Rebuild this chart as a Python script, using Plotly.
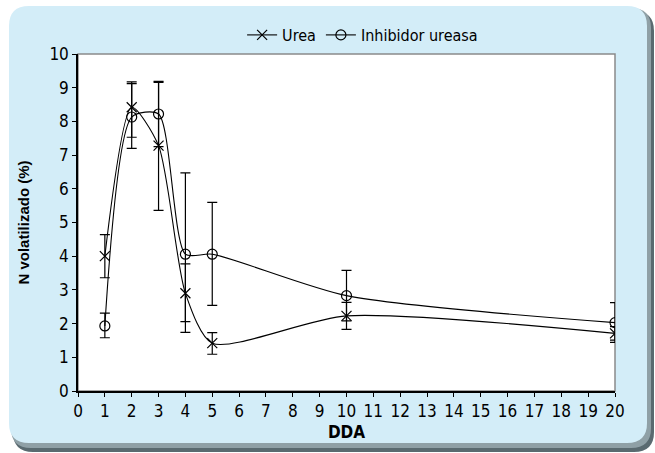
import plotly.graph_objects as go

# ---- data ----
days = [1, 2, 3, 4, 5, 10, 20]
urea = [4.0, 8.42, 7.28, 2.9, 1.42, 2.23, 1.71]
urea_err_up = [0.64, 0.75, 1.88, 0.87, 0.31, 0.4, 0.2]
urea_err_down = [0.64, 0.89, 1.92, 0.84, 0.33, 0.4, 0.2]
inhib = [1.93, 8.13, 8.22, 4.06, 4.06, 2.83, 2.03]
inhib_err_up = [0.38, 0.99, 0.97, 2.41, 1.54, 0.75, 0.59]
inhib_err_down = [0.35, 0.93, 0.97, 2.32, 1.52, 0.75, 0.59]
x_ticks = list(range(0, 21))
y_ticks = list(range(0, 11))

W, H = 655, 453
L, R, T, B = 78, 40, 54, 62
PW, PH = W - L - R, H - T - B

def px(x):
    return (x - L) / PW

def py(y):
    return (H - B - y) / PH

def rrect(x0, y0, x1, y1, r):
    rx, ry = r / PW, r / PH
    X0, X1 = px(x0), px(x1)
    Y0, Y1 = py(y0), py(y1)
    return (f"M {X0+rx},{Y0} L {X1-rx},{Y0} Q {X1},{Y0} {X1},{Y0-ry} "
            f"L {X1},{Y1+ry} Q {X1},{Y1} {X1-rx},{Y1} "
            f"L {X0+rx},{Y1} Q {X0},{Y1} {X0},{Y1+ry} "
            f"L {X0},{Y0-ry} Q {X0},{Y0} {X0+rx},{Y0} Z")

TICKFONT = "Liberation Sans Narrow, DejaVu Sans Condensed, Arial Narrow, sans-serif"

fig = go.Figure()

fig.add_trace(go.Scatter(
    x=days, y=urea, name="Urea", mode="lines+markers",
    line=dict(color="black", width=1.1, shape="spline", smoothing=0.7),
    marker=dict(symbol="x-thin-open", size=10, color="black", line=dict(width=1.2, color="black")),
    error_y=dict(type="data", array=urea_err_up, arrayminus=urea_err_down, symmetric=False,
                 color="black", thickness=1.2, width=5),
))
fig.add_trace(go.Scatter(
    x=days, y=inhib, name="Inhibidor ureasa", mode="lines+markers",
    line=dict(color="black", width=1.1, shape="spline", smoothing=0.7),
    marker=dict(symbol="circle-open", size=10, color="black", line=dict(width=1.2, color="black")),
    error_y=dict(type="data", array=inhib_err_up, arrayminus=inhib_err_down, symmetric=False,
                 color="black", thickness=1.2, width=5),
))

shapes = [
    dict(type="path", xref="paper", yref="paper", path=rrect(13, 11, 654, 452, 20),
         fillcolor="#5a6a70", line=dict(width=0), layer="below"),
    dict(type="path", xref="paper", yref="paper", path=rrect(11, 8, 651, 448, 20),
         fillcolor="#8fa0a6", line=dict(width=0), layer="below"),
    dict(type="path", xref="paper", yref="paper", path=rrect(9, 6, 647, 443, 20),
         fillcolor="#d3edf8", line=dict(width=0), layer="below"),
    dict(type="rect", xref="paper", yref="paper", x0=0, y0=0, x1=1, y1=1,
         fillcolor="white", line=dict(color="#8a8a8a", width=1.5), layer="below"),
]

fig.update_layout(
    width=W, height=H,
    margin=dict(l=L, r=R, t=T, b=B),
    paper_bgcolor="white", plot_bgcolor="rgba(0,0,0,0)",
    shapes=shapes,
    showlegend=True,
    legend=dict(orientation="h", x=0.53, xanchor="center", y=py(18), yanchor="top",
                font=dict(family=TICKFONT, size=16, color="black"),
                bgcolor="rgba(0,0,0,0)", itemwidth=30, tracegroupgap=0),
    xaxis=dict(range=[0, 20], tickvals=x_ticks, ticktext=[str(v) for v in x_ticks],
               showgrid=False, zeroline=False, showline=True, linecolor="black", linewidth=1.5,
               ticks="outside", ticklen=4, tickcolor="black", tickwidth=1,
               tickfont=dict(family=TICKFONT, size=17, color="black"),
               title=dict(text="<b>DDA</b>", font=dict(family=TICKFONT, size=17, color="black"), standoff=6)),
    yaxis=dict(range=[0, 10], tickvals=y_ticks, ticktext=[str(v) for v in y_ticks],
               showgrid=False, zeroline=False, showline=True, linecolor="black", linewidth=1.5,
               ticks="outside", ticklen=4, tickcolor="black", tickwidth=1,
               tickfont=dict(family=TICKFONT, size=17, color="black"),
               title=dict(text="<b>N volatilizado (%)</b>", font=dict(family="Liberation Sans, Arial, sans-serif", size=15, color="black"), standoff=16)),
)

fig.write_html("out.html")
